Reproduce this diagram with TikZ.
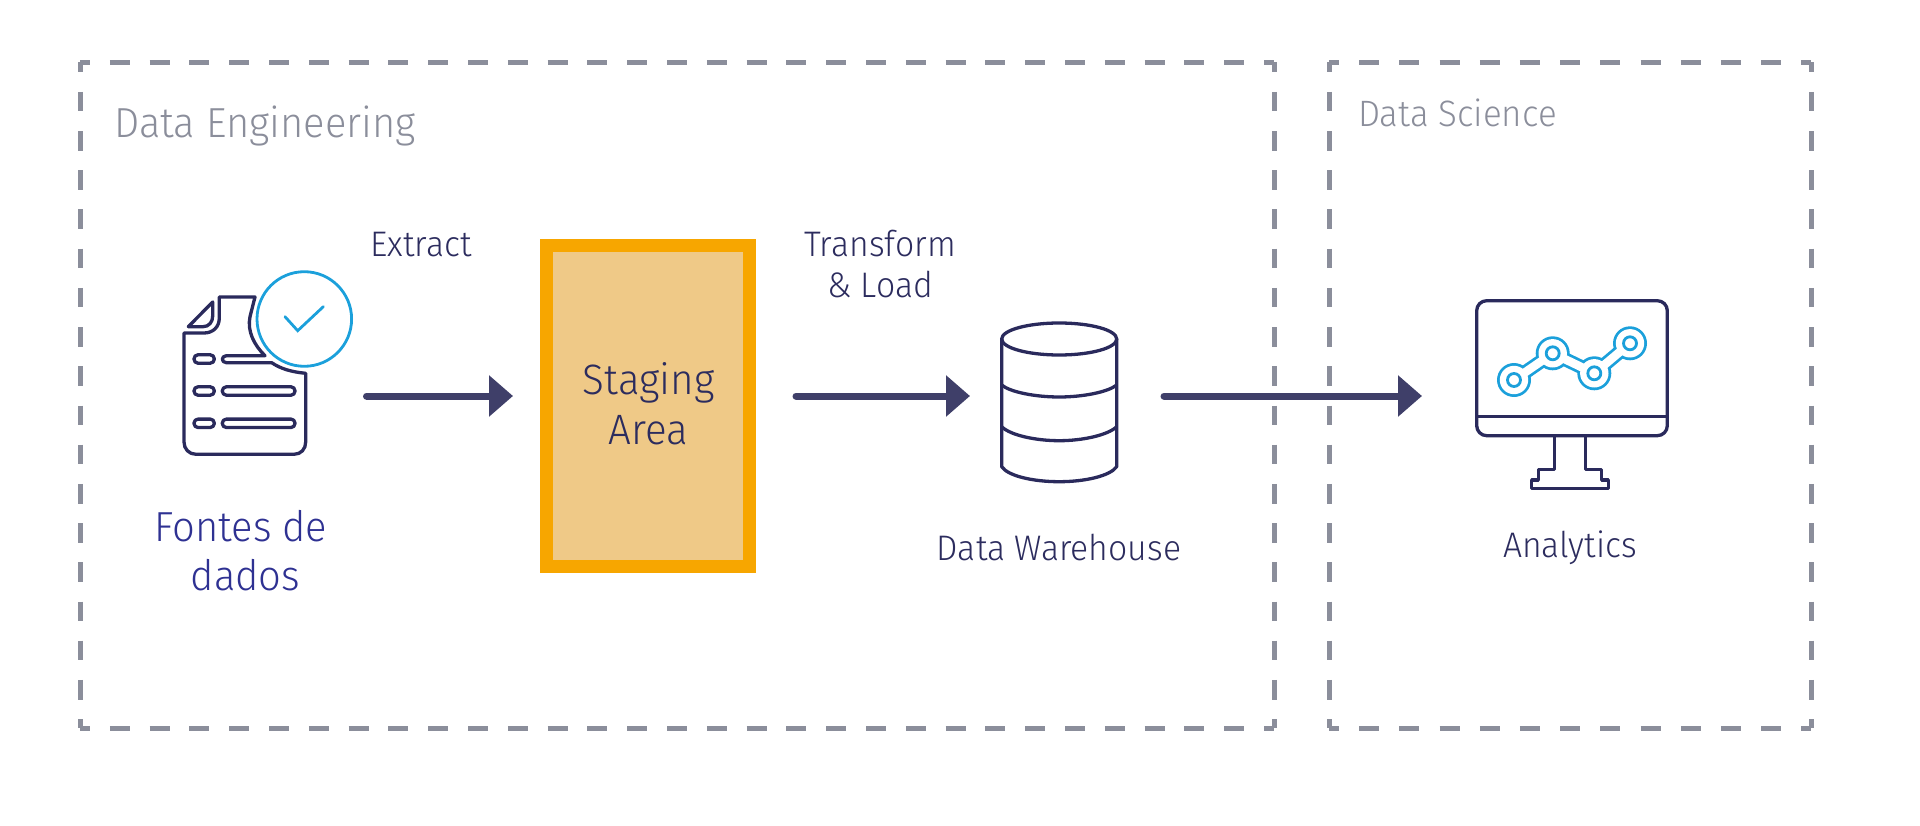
\documentclass[tikz,border=0pt]{standalone}
\usepackage{fontspec}
\setmainfont{Fira Sans Light}[FakeStretch=0.95]
\usetikzlibrary{arrows.meta}

\definecolor{navyline}{HTML}{2A2A5C}
\definecolor{navytext}{HTML}{2C2C5E}
\definecolor{arrowcol}{HTML}{3F3F69}
\definecolor{dashgray}{HTML}{8B8E9B}
\definecolor{skyblue}{HTML}{1BA0DB}
\definecolor{fontesblue}{HTML}{2E3192}
\definecolor{stagingedge}{HTML}{F7A600}
\definecolor{stagingfill}{HTML}{EFC987}

\tikzset{
	sidedash/.style={dashgray, line width=5pt, dash pattern=on #1 off #1, dash phase=#1/2},
	flowarrow/.style={arrowcol, line width=7pt, line cap=round, -{Triangle[length=24pt,width=40pt]}},
	iconline/.style={navyline, line width=3.3pt, line join=round},
	blueline/.style={skyblue, line width=2.8pt, line cap=round, line join=miter},
	lbl/.style={inner sep=0pt, text=navytext, align=center, font=\fontsize{35.5}{41.7}\selectfont},
	graylbl/.style={inner sep=0pt, anchor=base west, text=dashgray},
	stagingbox/.style={draw=stagingedge, fill=stagingfill, line width=13pt, inner sep=0pt, minimum width=203pt, minimum height=320.5pt}
}

\begin{document}
\begin{tikzpicture}[x=1pt, y=-1pt]
	\useasboundingbox (0,0) rectangle (1920,826);

	% dashed frames
	\draw[sidedash=19.9pt] (80,62.5)--(1274,62.5);
	\draw[sidedash=19.9pt] (80,728)--(1274,728);
	\draw[sidedash=19.6pt] (80,62.5)--(80,728);
	\draw[sidedash=19.6pt] (1274,62.5)--(1274,728);
	\draw[sidedash=20.1pt] (1329,62.5)--(1811,62.5);
	\draw[sidedash=20.1pt] (1329,728)--(1811,728);
	\draw[sidedash=19.6pt] (1329,62.5)--(1329,728);
	\draw[sidedash=19.6pt] (1811,62.5)--(1811,728);
	\node[graylbl, font=\fontsize{42}{48}\selectfont] (engineering) at (114,137.7) {Data Engineering};
	\node[graylbl, font=\fontsize{36.7}{40}\selectfont] (science) at (1358,127) {Data Science};

	% document icon
	\draw[iconline] (255,297)--(219.3,297)--(219.3,318) .. controls (219.3,327) and (213,333) .. (204,333)--(184,333)--(184,442) .. controls (184,449) and (189,454.3) .. (196,454.3)--(294,454.3) .. controls (301,454.3) and (305.7,449) .. (305.7,442)--(305.7,373.3) .. controls (292,372) and (281,369) .. (271.7,362.7)--(226.5,362.7) .. controls (221,362.7) and (221,355.7) .. (226.5,355.7)--(265,355.7) .. controls (254,345) and (247,331) .. (250,316.7)--cycle;
	\draw[iconline] (212.7,302)--(188.3,326.7)--(203,326.7) .. controls (209,326.7) and (212.7,322) .. (212.7,316)--cycle;
	\draw[iconline, rounded corners=4pt] (194,354.8) rectangle (214.3,363.2);
	\draw[iconline, rounded corners=4pt] (194,386.8) rectangle (214.3,395.2);
	\draw[iconline, rounded corners=4pt] (194,419.1) rectangle (214.3,427.5);
	\draw[iconline, rounded corners=4pt] (222.3,386.8) rectangle (295,395.2);
	\draw[iconline, rounded corners=4pt] (222.3,419.1) rectangle (295,427.5);
	\draw[blueline] (304.3,319) circle (47.3);
	\draw[blueline] (285,316.7)--(297.7,330.7)--(323.3,306.7);
	\node[lbl, text=fontesblue, font=\fontsize{42}{49}\selectfont] (fontes) at (241,551) {Fontes de\\\hspace*{9pt}dados};

	% staging area
	\node[stagingbox] (staging) at (647.5,405.75) {};
	\node[lbl, font=\fontsize{42.5}{50}\selectfont] (stagingtext) at (648.5,403.5) {Staging\\Area};

	% cylinder
	\draw[iconline] (1059.2,339) ellipse (57.5 and 16);
	\draw[iconline] (1001.7,339)--(1001.7,466.7) .. controls (1008,476) and (1033,481.7) .. (1059.2,481.7) .. controls (1085,481.7) and (1110,476) .. (1116.7,466.7)--(1116.7,339);
	\draw[iconline] (1001.7,385) .. controls (1010,392) and (1035,397) .. (1059.2,397) .. controls (1083,397) and (1108,392) .. (1116.7,385);
	\draw[iconline] (1001.7,426.7) .. controls (1010,435) and (1035,440.7) .. (1059.2,440.7) .. controls (1083,440.7) and (1108,435) .. (1116.7,426.7);

	% monitor
	\draw[iconline, rounded corners=10pt] (1476.7,300.7) rectangle (1667.3,435.7);
	\draw[iconline] (1476.7,416.7)--(1667.3,416.7);
	\draw[iconline] (1554.3,435.7)--(1554.3,469.3)--(1538.3,469.3)--(1538.3,480)--(1531.7,480)--(1531.7,488.3)--(1608.3,488.3)--(1608.3,480)--(1601.7,480)--(1601.7,469.3)--(1585.7,469.3)--(1585.7,435.7);

	% chart inside the monitor
	\coordinate (ptA) at (1514,380);
	\coordinate (ptB) at (1552.7,353.3);
	\coordinate (ptC) at (1594.3,373.3);
	\coordinate (ptD) at (1630,343.3);
	\draw[skyblue, line width=14pt] (ptA)--(ptB)--(ptC)--(ptD);
	\fill[skyblue] (ptA) circle (17) (ptB) circle (17) (ptC) circle (17) (ptD) circle (17);
	\draw[white, line width=8.5pt] (ptA)--(ptB)--(ptC)--(ptD);
	\fill[white] (ptA) circle (14.2) (ptB) circle (14.2) (ptC) circle (14.2) (ptD) circle (14.2);
	\draw[skyblue, line width=2.8pt] (ptA) circle (6.5) (ptB) circle (6.5) (ptC) circle (6.5) (ptD) circle (6.5);

	% labels
	\node[lbl] (extract) at (421,244.5) {Extract};
	\node[lbl] (transform) at (880,264) {Transform\\\& Load};
	\node[lbl] (warehouse) at (1059,548) {Data Warehouse};
	\node[lbl] (analytics) at (1570,548) {Analytics};

	% arrows
	\coordinate (extractStart) at (366.5,396);
	\coordinate (extractEnd) at (513,396);
	\coordinate (loadStart) at (796,396);
	\coordinate (loadEnd) at (970,396);
	\coordinate (serveStart) at (1164,396);
	\coordinate (serveEnd) at (1422,396);
	\draw[flowarrow] (extractStart)--(extractEnd);
	\draw[flowarrow] (loadStart)--(loadEnd);
	\draw[flowarrow] (serveStart)--(serveEnd);
\end{tikzpicture}
\end{document}
